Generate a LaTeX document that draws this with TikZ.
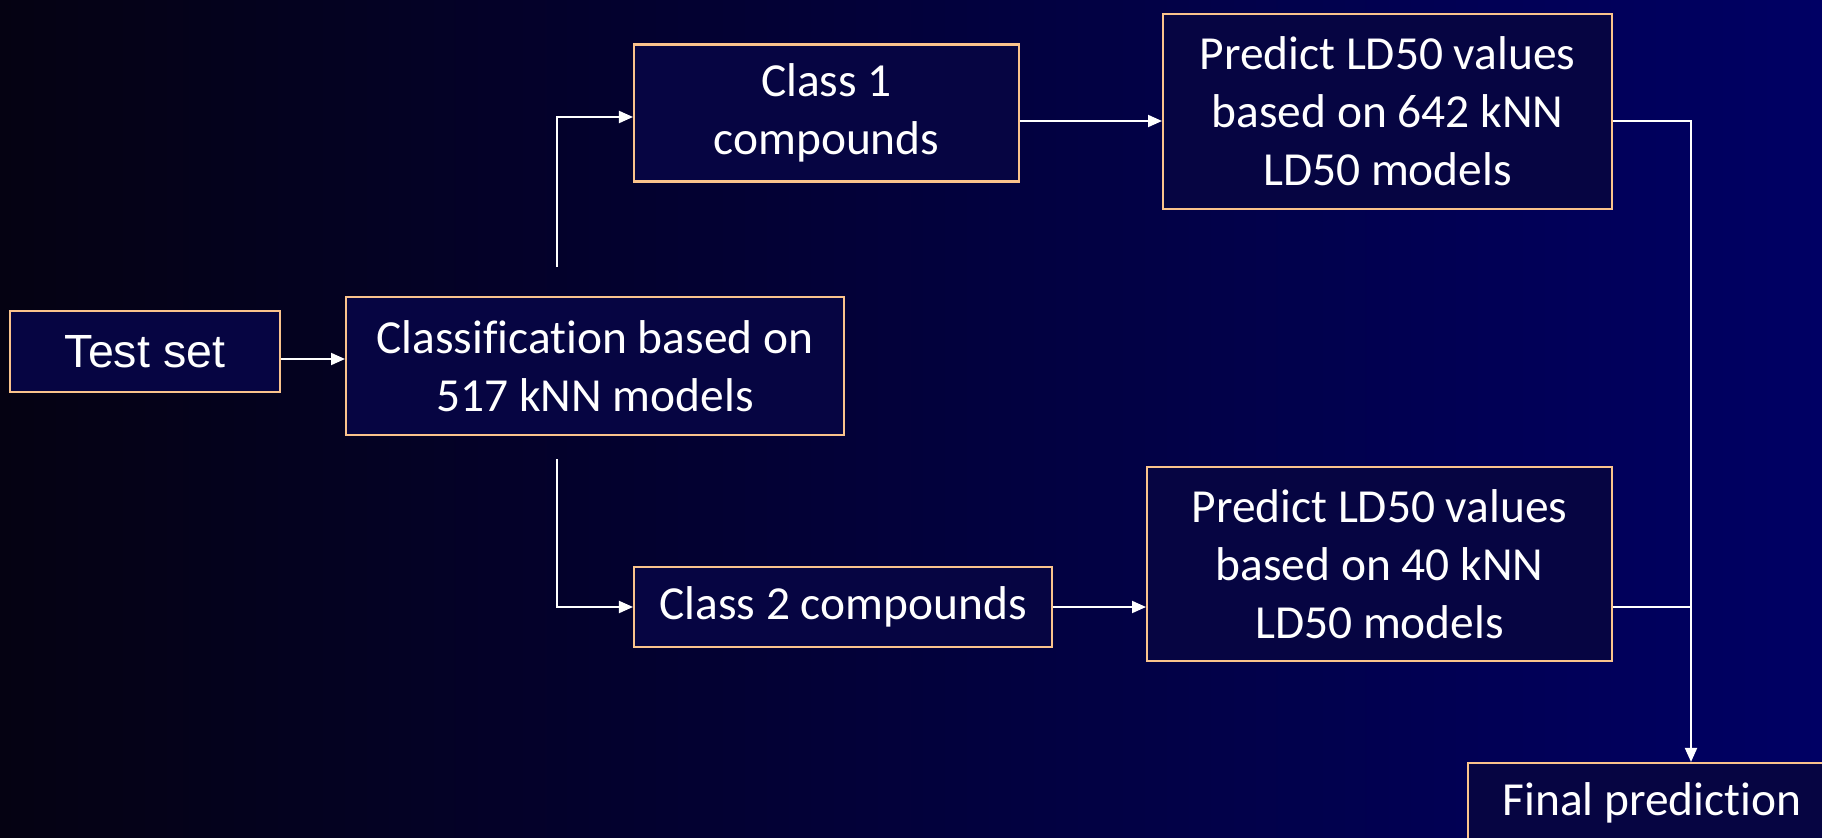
\documentclass[tikz,border=0pt]{standalone}
\usepackage{fontspec}
\setmainfont[RawFeature={-liga;-clig;-calt;-dlig}]{Carlito}
\newfontfamily\arialfont{Liberation Sans}
\usetikzlibrary{arrows.meta}
\definecolor{bgleft}{RGB}{5,2,18}
\definecolor{bgright}{RGB}{0,0,100}
\definecolor{boxfill}{RGB}{6,5,66}
\definecolor{peach}{RGB}{250,195,140}

\begin{document}
\begin{tikzpicture}[x=0.02cm, y=-0.02cm,
    box/.style={draw=peach, line width=1.2pt, fill=boxfill, text=white, align=center,
        inner sep=0pt, font=\fontsize{27}{33}\selectfont},
    conn/.style={draw=white, line width=1.1pt},
    arr/.style={conn, -{Triangle[length=2.8mm, width=2.4mm]}}]
    \useasboundingbox (0,0) rectangle (1822,838);
    \clip (0,0) rectangle (1822,838);
    \shade[left color=bgleft, right color=bgright] (0,0) rectangle (1822,838);

    % boxes
    \node[box, font=\arialfont\fontsize{26.5}{31}\selectfont,
        minimum width=5.4cm, minimum height=1.62cm] (test) at (145,351.5) {Test set};
    \node[box, minimum width=9.96cm, minimum height=2.76cm] (classify) at (595,366)
        {Classification based on\\517 kNN models};
    \node[box, minimum width=7.7cm, minimum height=2.74cm] (class1) at (826.5,113)
        {Class 1\\compounds};
    \node[box, minimum width=8.98cm, minimum height=3.9cm] (pred1) at (1387.5,111.5)
        {Predict LD50 values\\based on 642 kNN\\LD50 models};
    \node[box, minimum width=8.36cm, minimum height=1.6cm] (class2) at (843,607)
        {Class 2 compounds};
    \node[box, minimum width=9.3cm, minimum height=3.88cm] (pred2) at (1379.5,564)
        {Predict LD50 values\\based on 40 kNN\\LD50 models};
    \node[box, minimum width=7.36cm, minimum height=1.6cm] (final) at (1652,803)
        {Final prediction};

    % connectors
    \coordinate (splitup) at (557,267);
    \coordinate (splitdown) at (557,459);
    \coordinate (merge) at (1691,121);
    \draw[arr] ([yshift=-0.15cm]test.east) -- ([yshift=-0.15cm]test.east -| classify.west);
    \draw[arr] (splitup) |- ([yshift=-0.08cm]class1.west);
    \draw[arr] (splitdown) |- (class2.west);
    \draw[arr] (class1.east |- merge) -- (pred1.west |- merge);
    \draw[arr] (class2.east) -- (class2.east -| pred2.west);
    \draw[arr] (pred1.east |- merge) -| (merge |- final.north);
    \draw[conn] (pred2.east |- class2.east) -- (merge |- class2.east);
\end{tikzpicture}
\end{document}
